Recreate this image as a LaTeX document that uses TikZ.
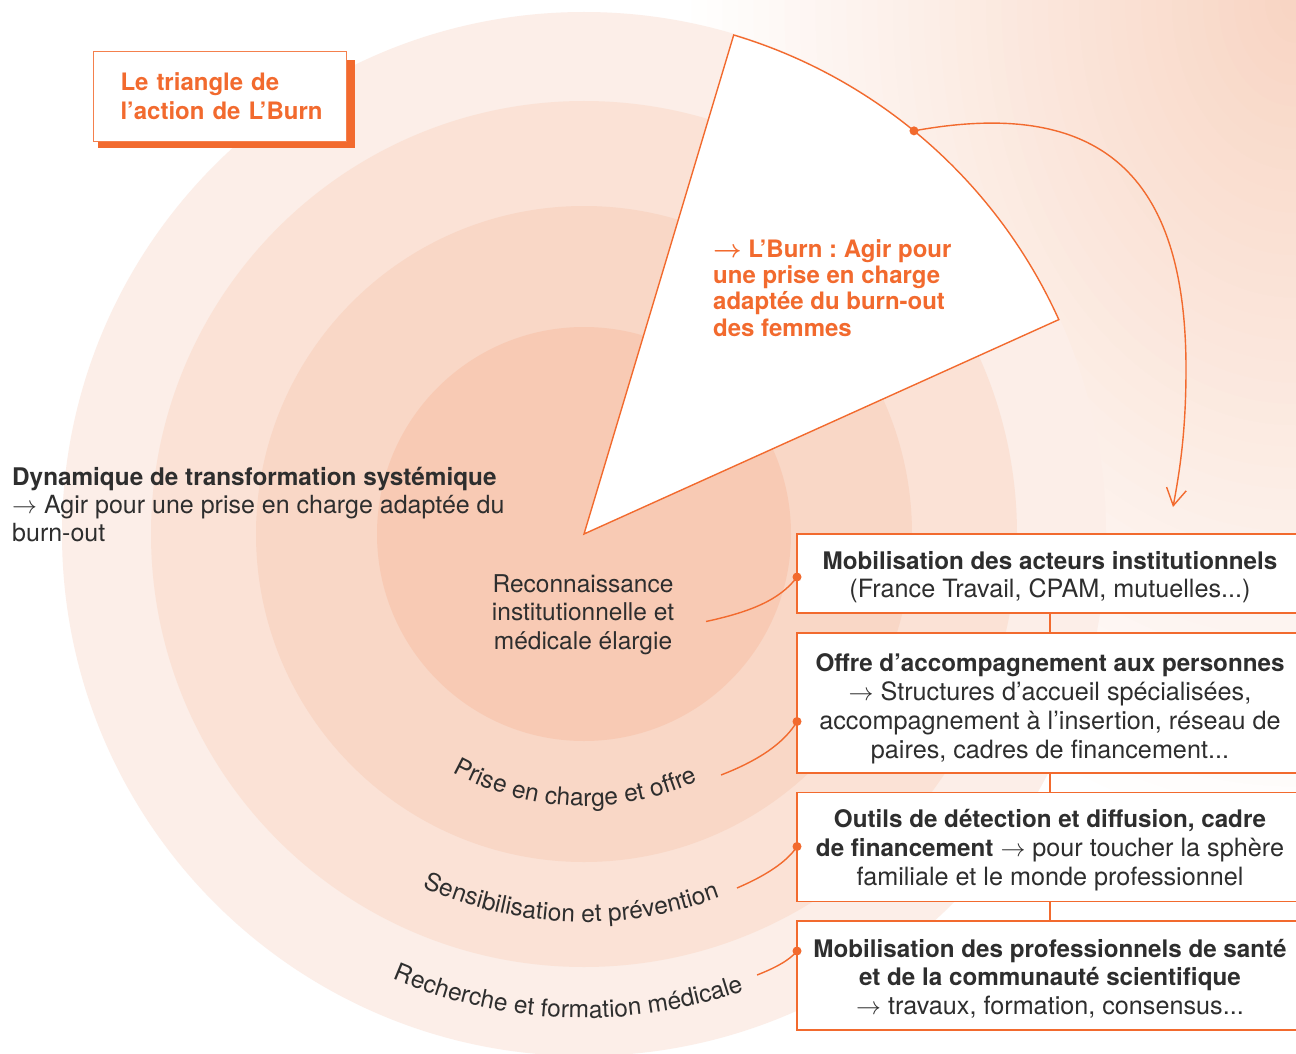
\documentclass[tikz,border=0pt]{standalone}
\usepackage{fontspec}
\setmainfont{TeX Gyre Heros}
\usetikzlibrary{arrows.meta,decorations.text,calc}
\definecolor{orng}{HTML}{F26A2E}
\definecolor{txt}{HTML}{2E2E2E}
\definecolor{bgpeach}{HTML}{F8D4C2}
\definecolor{ringA}{HTML}{FCEEE8}
\definecolor{ringB}{HTML}{FBE2D6}
\definecolor{ringC}{HTML}{F9D7C6}
\definecolor{ringD}{HTML}{F8CAB4}
\newcommand\fs[2]{\fontsize{#1}{#2}\selectfont}
\newcommand\rarr{$\rightarrow$}
\newcommand\bhead[1]{{\fs{24.2}{28.8}\bfseries #1}}
\frenchspacing
\begin{document}
\begin{tikzpicture}[x=1pt,y=1pt,
  box/.style={draw=orng, line width=1.8pt, fill=white, minimum width=506, inner sep=0,
              align=center, text=txt, font=\fs{25.2}{28.8}\frenchspacing},
  dot/.style={circle, fill=orng, inner sep=0, minimum size=9},
  link/.style={draw=orng, line width=1.4pt},
  ringlabel/.style={decorate, decoration={text along path, text align=center, text color=txt}},
  plain/.style={inner sep=0, text=txt}
]
\useasboundingbox (0,0) rectangle (1296,-1054);
\fill[white] (0,0) rectangle (1296,-1054);
\begin{scope}
  \clip (0,0) rectangle (1296,-1054);
  \foreach \k in {39,38,...,1}{
    \pgfmathsetmacro\p{100-2.5*\k}
    \pgfmathsetmacro\rx{15.5*\k}
    \pgfmathsetmacro\ry{21.25*\k}
    \fill[bgpeach!\p!white] (1296,0) ellipse[x radius=\rx, y radius=\ry];
  }
  \coordinate (O) at (584,-534);
  \fill[ringA] (O) circle[radius=522];
  \fill[ringB] (O) circle[radius=433];
  \fill[ringC] (O) circle[radius=328];
  \fill[ringD] (O) circle[radius=207];
\end{scope}

% sector
\draw[orng, line width=1.4pt, fill=white, line join=miter]
  (O) -- ($(O)+(73.3:521)$) arc[start angle=73.3, end angle=24.3, radius=521] -- cycle;
\node[dot] (sd) at ($(O)+(50.7:521)$) {};
\coordinate (tip) at (1173,-507);
\draw[link, -{Straight Barb[length=17pt,width=20pt]}]
  (sd.center) .. controls (1110,-95) and (1186,-185) .. (1186,-369)
  .. controls (1186,-430) and (1180,-470) .. (tip);

\node[plain, anchor=north west, align=left, text=orng, font=\fs{24}{26.4}\bfseries\frenchspacing] (stxt) at (713,-239)
  {{\boldmath$\rightarrow$} L’Burn : Agir pour\\une prise en charge\\adaptée du burn-out\\des femmes};

% title
\fill[orng] (98,-60) rectangle (355,-148);
\node[draw=orng!85, line width=1pt, fill=white, anchor=north west, minimum height=90,
      inner xsep=18, inner ysep=0, text width=217, align=left, text=orng,
      font=\fs{24}{29}\bfseries] (title) at (93,-51)
  {\hspace*{9pt}Le triangle de\\\hspace*{9pt}l’action de L’Burn};

% left text
\node[plain, anchor=north west, align=left, font=\fs{25}{28}] (dyn) at (12,-467)
  {{\fs{24.3}{28}\bfseries Dynamique de transformation systémique}\\\rarr\ Agir pour une prise en charge adaptée du\\burn-out};

% centre text
\node[plain, anchor=north, align=center, font=\fs{24.5}{28.8}] (rec) at (583,-574)
  {Reconnaissance\\institutionnelle et\\médicale élargie};

% ring labels
\path[ringlabel, decoration={text={|\fs{24.5}{28}|Prise en charge et offre}}]
  ($(O)+(208:272)$) arc[start angle=208, end angle=328, radius=272];
\path[ringlabel, decoration={text={|\fs{24.5}{28}|Sensibilisation et prévention}}]
  ($(O)+(218:388)$) arc[start angle=218, end angle=318, radius=388];
\path[ringlabel, decoration={text={|\fs{24.5}{28}|Recherche et formation médicale}}]
  ($(O)+(228:484)$) arc[start angle=228, end angle=308, radius=484];

% boxes
\node[box, minimum height=78.3] (b1) at (1050,-573.5)
  {\rule{0pt}{25.5pt}\bhead{Mobilisation des acteurs institutionnels}\\(France Travail, CPAM, mutuelles...)};
\node[box, minimum height=139.7] (b2) at (1050,-702.85)
  {\rule{0pt}{30pt}\bhead{Offre d’accompagnement aux personnes}\\\rarr\ Structures d’accueil spécialisées,\\accompagnement à l’insertion, réseau de\\paires, cadres de financement...};
\node[box, minimum height=109] (b3) at (1050,-847)
  {\rule{0pt}{25pt}\bhead{Outils de détection et diffusion, cadre}\\\bhead{de financement} \rarr\ pour toucher la sphère\\familiale et le monde professionnel};
\node[box, minimum height=109] (b4) at (1050,-975.7)
  {\rule{0pt}{24pt}\bhead{Mobilisation des professionnels de santé}\\\bhead{et de la communauté scientifique}\\\rarr\ travaux, formation, consensus...};
\draw[orng, line width=1.8pt] (b1.south) -- (b2.north);
\draw[orng, line width=1.8pt] (b2.south) -- (b3.north);
\draw[orng, line width=1.8pt] (b3.south) -- (b4.north);

% label connectors
\coordinate (e1) at (706,-621.5);
\coordinate (e2) at (721,-775);
\coordinate (e3) at (737,-888);
\coordinate (e4) at (757,-975);
\node[dot] (d1) at (797,-577) {};
\node[dot] (d2) at (797,-721.5) {};
\node[dot] (d3) at (797,-846.5) {};
\node[dot] (d4) at (797,-951) {};
\draw[link] (e1) .. controls (750,-612) and (780,-600) .. (d1.center);
\draw[link] (e2) .. controls (760,-760) and (785,-742) .. (d2.center);
\draw[link] (e3) .. controls (765,-876) and (787,-862) .. (d3.center);
\draw[link] (e4) .. controls (775,-968) and (790,-960) .. (d4.center);
\end{tikzpicture}
\end{document}
